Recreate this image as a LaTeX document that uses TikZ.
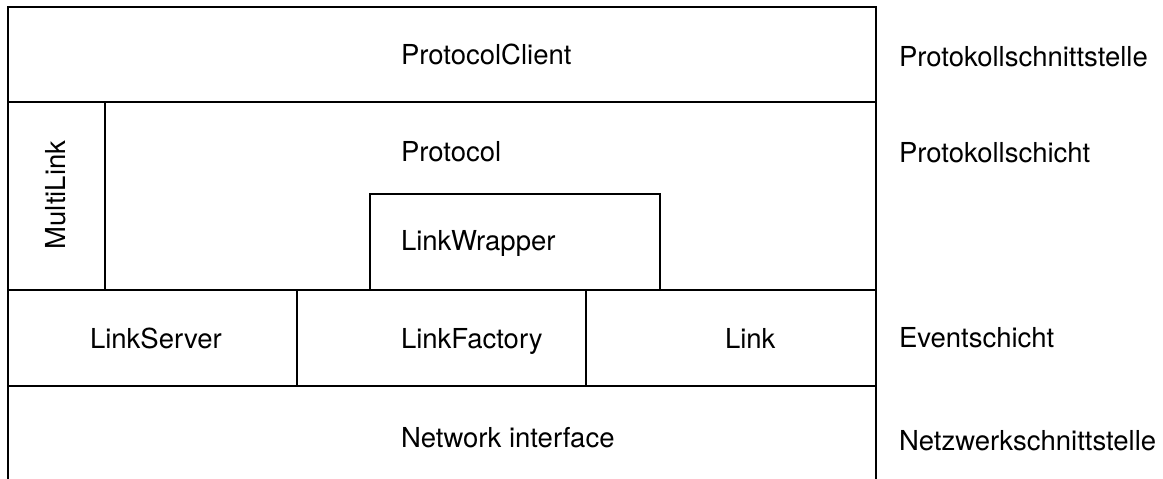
\documentclass[tikz,border=0pt]{standalone}
\usepackage{fontspec}
\setmainfont{TeX Gyre Heros}
\usetikzlibrary{positioning}

\tikzset{
    layer/.style={anchor=west, inner sep=0pt},
    side/.style={anchor=west, inner sep=0pt},
}

\begin{document}
\begin{tikzpicture}[x=1pt, y=-1pt, line width=2pt, font=\fontsize{27.5}{33}\selectfont]

    \useasboundingbox (0,0) rectangle (1163,479);

    % frame, open at the bottom
    \draw (8,479) -- (8,7) -- (876,7) -- (876,479);
    \draw (8,102) -- (876,102);
    \draw (8,290) -- (876,290);
    \draw (8,386) -- (876,386);

    % boxes inside the layers
    \draw (105,102) -- (105,290);
    \draw (370,290) -- (370,194) -- (660,194) -- (660,290);
    \draw (297,290) -- (297,386);
    \draw (586,290) -- (586,386);

    \node[layer] (client)  at (400,54)  {ProtocolClient};
    \node[layer] (proto)   at (400,152) {Protocol};
    \node[layer] (wrapper) at (400,243) {LinkWrapper};
    \node[layer] (server)  at (89,338)  {LinkServer};
    \node[layer] (factory) at (400,341) {LinkFactory};
    \node[layer] (link)    at (724,338) {Link};
    \node[layer] (net)     at (400,438) {Network interface};
    \node[rotate=90, inner sep=0pt] (multi) at (56,195) {MultiLink};

    \node[side] (s1) at (898,57)  {Protokollschnittstelle};
    \node[side] (s2) at (898,153) {Protokollschicht};
    \node[side] (s3) at (898,338) {Eventschicht};
    \node[side] (s4) at (898,441) {Netzwerkschnittstelle};

\end{tikzpicture}
\end{document}
